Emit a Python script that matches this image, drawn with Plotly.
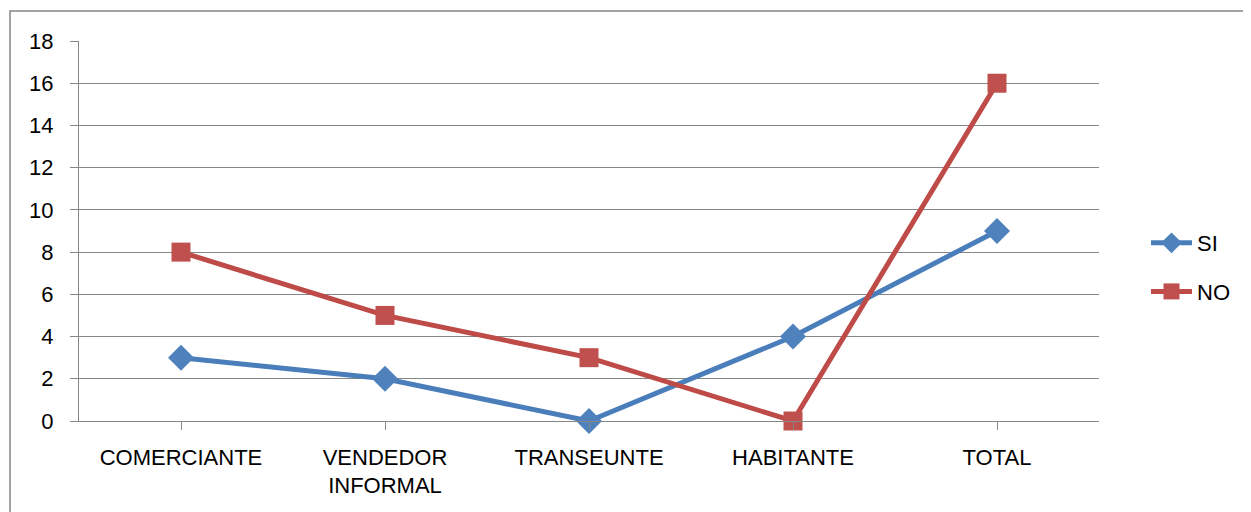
import plotly.graph_objects as go

categories = ["COMERCIANTE", "VENDEDOR<br>INFORMAL", "TRANSEUNTE", "HABITANTE", "TOTAL"]
si_values = [3, 2, 0, 4, 9]
no_values = [8, 5, 3, 0, 16]
y_ticks = [0, 2, 4, 6, 8, 10, 12, 14, 16, 18]

# the page body adds an 8px offset; work in figure coordinates
OFF = 8
W, H = 1251 - OFF, 512 - OFF
px_left, px_right, px_top, px_bottom = 79 - OFF, 1099 - OFF, 41 - OFF, 421 - OFF
L, R, T, B = px_left, W - px_right, px_top, H - px_bottom
pw, ph = px_right - px_left, px_bottom - px_top

def xp(px):
    return (px - OFF - px_left) / pw

def yp(py):
    return (px_bottom - (py - OFF)) / ph

FONT = "Liberation Sans"
GRID = "#868686"

fig = go.Figure()
fig.add_trace(go.Scatter(
    x=list(range(len(categories))), y=si_values, name="SI", mode="lines+markers",
    line=dict(color="#4A7EBB", width=5),
    marker=dict(symbol="diamond", size=20, color="#4F81BD", line=dict(width=0)),
    legendgroup="a", cliponaxis=False,
))
fig.add_trace(go.Scatter(
    x=list(range(len(categories))), y=no_values, name="NO", mode="lines+markers",
    line=dict(color="#BE4B48", width=5),
    marker=dict(symbol="square", size=19, color="#C0504D", line=dict(width=0)),
    legendgroup="b", cliponaxis=False,
))

fig.update_layout(
    width=W, height=H,
    margin=dict(l=L, r=R, t=T, b=B, autoexpand=False),
    paper_bgcolor="white", plot_bgcolor="white",
    font=dict(family=FONT, size=22, color="#000000"),
    showlegend=True,
    legend=dict(x=xp(1146), y=yp(222), xanchor="left", yanchor="top",
                font=dict(family=FONT, size=22), tracegroupgap=17,
                bgcolor="rgba(0,0,0,0)", itemwidth=41),
    xaxis=dict(
        range=[-0.5, 4.5], tickmode="array", tickvals=list(range(len(categories))),
        ticktext=categories, tickson="boundaries", ticks="outside", ticklen=8,
        tickcolor=GRID, tickwidth=1.3, showline=True, linecolor=GRID, linewidth=1.3,
        showgrid=False, zeroline=False, fixedrange=True, ticklabelstandoff=8,
        tickfont=dict(family=FONT, size=22),
    ),
    yaxis=dict(
        range=[0, 18], tickmode="array", tickvals=y_ticks, ticks="outside", ticklen=8,
        tickcolor=GRID, tickwidth=1.3, showline=True, linecolor=GRID, linewidth=1.3,
        showgrid=True, gridcolor=GRID, gridwidth=1.3, zeroline=False,
        ticklabelstandoff=12, tickfont=dict(family=FONT, size=22),
    ),
    shapes=[dict(type="rect", xref="paper", yref="paper",
                 x0=xp(10), x1=xp(1251 + 20), y0=yp(512 + 20), y1=yp(11),
                 line=dict(color=GRID, width=1.5), fillcolor="rgba(0,0,0,0)", layer="below")],
)

fig.write_html("out.html")
